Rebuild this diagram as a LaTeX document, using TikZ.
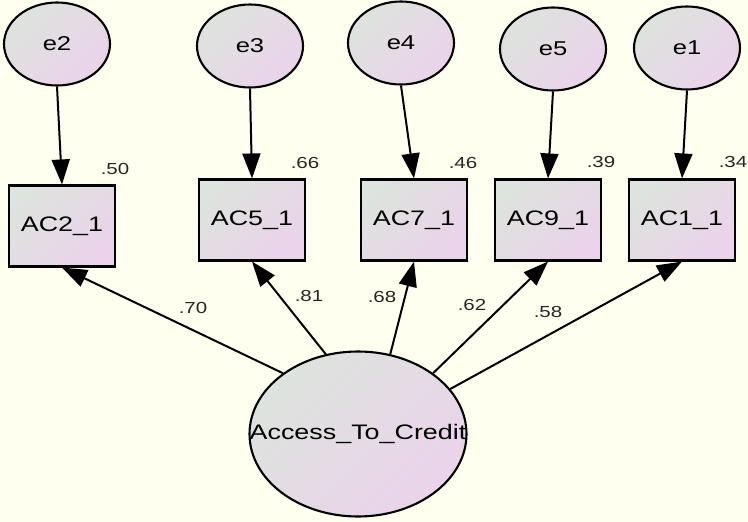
\documentclass[tikz,border=0pt]{standalone}
\usepackage{fontspec}
\newfontfamily\amosfont[FakeStretch=1.28]{Liberation Sans}
\usetikzlibrary{shapes.geometric,arrows.meta}
\definecolor{sfondo}{HTML}{FFFFF0}
\definecolor{grigio}{HTML}{DDE3DD}
\definecolor{rosa}{HTML}{EBD3EB}
\tikzset{
    riempi/.style={draw=black, line width=2.1pt, top color=grigio, bottom color=rosa, shading angle=45},
    errore/.style={riempi, ellipse, inner sep=0pt, minimum width=106pt, minimum height=83pt, font=\amosfont\fontsize{20}{24}\selectfont},
    misura/.style={riempi, rectangle, inner sep=0pt, minimum width=106pt, minimum height=81pt, font=\amosfont\fontsize{21}{24}\selectfont},
    latente/.style={riempi, ellipse, inner sep=0pt, minimum width=217pt, minimum height=165pt},
    nome/.style={font=\amosfont\fontsize{21}{24}\selectfont},
    peso/.style={inner sep=0pt, text=black!85, font=\amosfont\fontsize{16}{18}\selectfont},
    freccia/.style={-{Triangle[length=25pt,width=18pt]}, line width=2pt}
}
\begin{document}
\begin{tikzpicture}[x=1pt,y=-1pt]
        \path[use as bounding box, fill=sfondo] (0,0) rectangle (748,522);

        %%%%%%%%% Errori %%%%%%%%%
        \node[errore] (e2) at (57,44) {e2};
        \node[errore] (e3) at (250,46) {e3};
        \node[errore] (e4) at (401,43) {e4};
        \node[errore] (e5) at (553,49) {e5};
        \node[errore] (e1) at (687,48) {e1};

        %%%%%%%%% Osservate %%%%%%%%%
        \node[misura] (ac2) at (62,226) {AC2\_1};
        \node[misura] (ac5) at (252,220) {AC5\_1};
        \node[misura] (ac7) at (414,220) {AC7\_1};
        \node[misura] (ac9) at (548,220) {AC9\_1};
        \node[misura] (ac1) at (682,220) {AC1\_1};

        %%%%%%%%% Latente %%%%%%%%%
        \node[latente, label={[nome]center:Access\_To\_Credit}] (acc) at (358,434) {};

        %%%%%%%%% Frecce %%%%%%%%%
        \draw[freccia] (e2.south) -- (ac2.north);
        \draw[freccia] (e3.south) -- (ac5.north);
        \draw[freccia] (e4.south) -- (ac7.north);
        \draw[freccia] (e5.south) -- (ac9.north);
        \draw[freccia] (e1.south) -- (ac1.north);

        \draw[freccia] (acc.141) -- (ac2.south);
        \draw[freccia] (acc.112) -- (ac5.south);
        \draw[freccia] (acc.68) -- (ac7.south);
        \draw[freccia] (acc.39) -- (ac9.south);
        \draw[freccia] (acc.26) -- (ac1.south);

        %%%%%%%%% R quadro %%%%%%%%%
        \node[peso] (r2) at (115,169) {.50};
        \node[peso] (r5) at (305,163) {.66};
        \node[peso] (r7) at (463,163) {.46};
        \node[peso] (r9) at (601,162) {.39};
        \node[peso] (r1) at (733,162) {.34};

        %%%%%%%%% Pesi %%%%%%%%%
        \node[peso] (l2) at (193,308) {.70};
        \node[peso] (l5) at (309,296) {.81};
        \node[peso] (l7) at (382,297) {.68};
        \node[peso] (l9) at (472,305) {.62};
        \node[peso] (l1) at (548,312) {.58};
    \end{tikzpicture}
\end{document}
